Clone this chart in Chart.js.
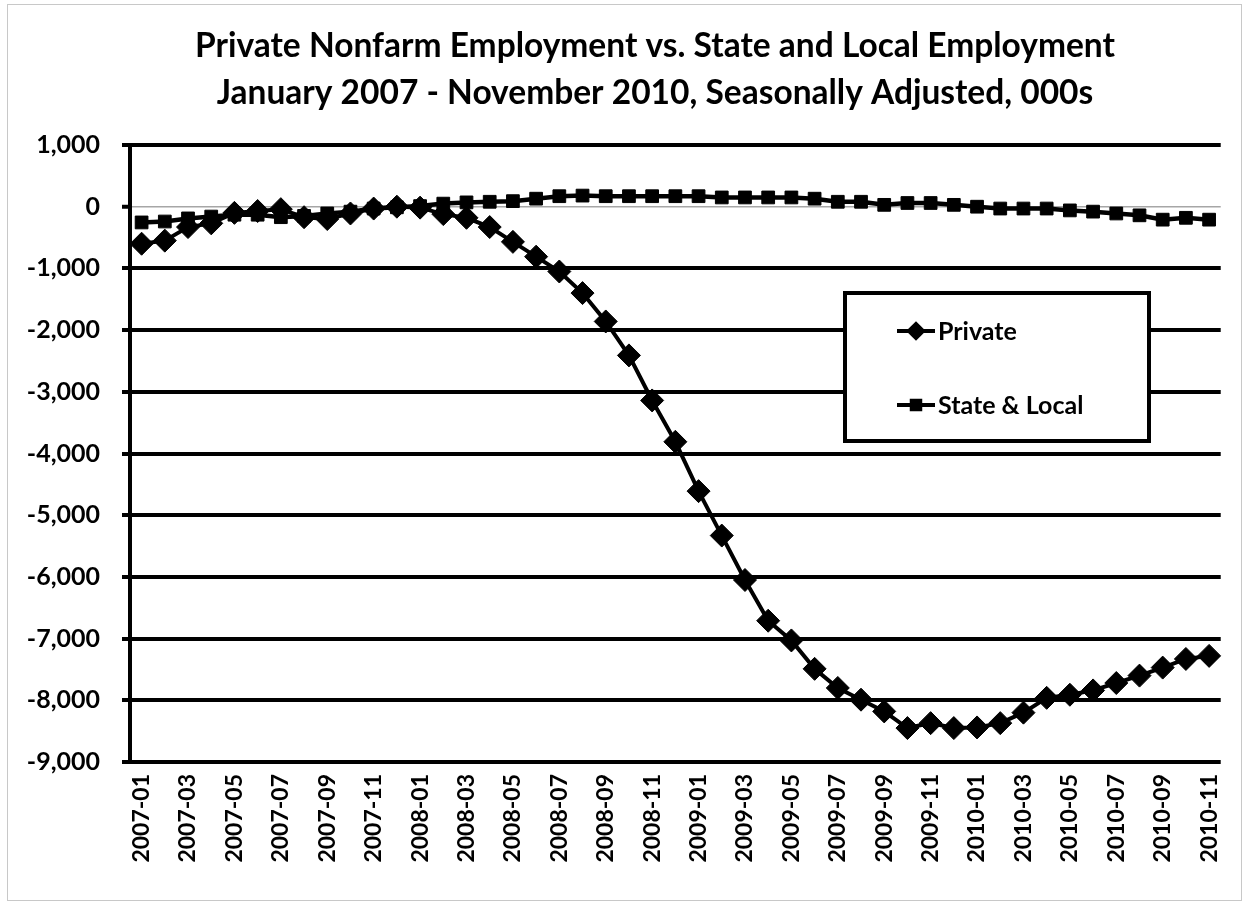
<!DOCTYPE html>
<html>
<head>
<meta charset="utf-8">
<script src="https://cdn.jsdelivr.net/npm/chart.js@4.4.0/dist/chart.umd.min.js"></script>
<style>
  html, body { margin: 0; padding: 0; background: #fff; }
</style>
</head>
<body>
<canvas id="lineChart" width="1249" height="905"></canvas>
<script>
const months = [
  '2007-01','2007-02','2007-03','2007-04','2007-05','2007-06','2007-07','2007-08','2007-09','2007-10','2007-11','2007-12',
  '2008-01','2008-02','2008-03','2008-04','2008-05','2008-06','2008-07','2008-08','2008-09','2008-10','2008-11','2008-12',
  '2009-01','2009-02','2009-03','2009-04','2009-05','2009-06','2009-07','2009-08','2009-09','2009-10','2009-11','2009-12',
  '2010-01','2010-02','2010-03','2010-04','2010-05','2010-06','2010-07','2010-08','2010-09','2010-10','2010-11'
];

const privateJobs = [
  -600, -550, -330, -270, -100, -70, -40, -170, -200, -110, -30, 0,
  -15, -120, -180, -330, -570, -810, -1050, -1400, -1860, -2410, -3140, -3810,
  -4610, -5330, -6050, -6710, -7030, -7490, -7800, -7990, -8180, -8450, -8370, -8450,
  -8440, -8370, -8200, -7960, -7910, -7840, -7720, -7600, -7470, -7330, -7280
];

const stateLocalJobs = [
  -255, -240, -190, -160, -130, -130, -170, -150, -110, -80, -30, -10,
  10, 50, 70, 80, 90, 130, 170, 180, 170, 170, 170, 170,
  170, 150, 150, 150, 150, 130, 80, 80, 30, 60, 60, 30,
  0, -30, -30, -30, -60, -80, -110, -140, -210, -180, -210
];

const titleLines = [
  'Private Nonfarm Employment vs. State and Local Employment',
  'January 2007 - November 2010, Seasonally Adjusted, 000s'
];

const yMin = -9000;
const yMax = 1000;
const yStep = 1000;

const FONT = 'Lato, "Open Sans", sans-serif';

// white page + thin grey frame like the excel chart area
const frame = {
  id: 'frame',
  beforeDraw(chart) {
    const c = chart.ctx;
    c.save();
    c.fillStyle = '#fff';
    c.fillRect(0, 0, chart.width, chart.height);
    c.strokeStyle = '#c8c8c8';
    c.lineWidth = 1;
    c.strokeRect(7.5, 4.5, 1234, 896);
    c.restore();
  }
};

const titleBlock = {
  id: 'titleBlock',
  afterDraw(chart) {
    const c = chart.ctx;
    c.save();
    c.fillStyle = '#000';
    c.font = 'bold 33.5px ' + FONT;
    c.textAlign = 'center';
    c.textBaseline = 'alphabetic';
    c.fillText(titleLines[0], 655, 57);
    c.fillText(titleLines[1], 655, 104);
    c.restore();
  }
};

// boxed legend sitting inside the plot
const boxLegend = {
  id: 'boxLegend',
  afterDatasetsDraw(chart, args, opts) {
    const c = chart.ctx;
    c.save();
    c.fillStyle = '#fff';
    c.fillRect(opts.x, opts.y, opts.w, opts.h);
    c.strokeStyle = '#000';
    c.lineWidth = 4;
    c.strokeRect(opts.x, opts.y, opts.w, opts.h);

    chart.data.datasets.forEach((ds, i) => {
      const y = opts.y + 38 + i * 74;
      const x0 = opts.x + 52;
      c.strokeStyle = '#000';
      c.lineWidth = 4;
      c.beginPath();
      c.moveTo(x0, y);
      c.lineTo(x0 + 38, y);
      c.stroke();
      c.fillStyle = '#000';
      Chart.helpers.drawPoint(c, {
        pointStyle: ds.pointStyle,
        radius: ds.pointStyle === 'rectRot' ? 7 : 6,
        rotation: 0,
        borderWidth: 1
      }, x0 + 19, y);
      c.fillStyle = '#000';
      c.font = 'bold 25px ' + FONT;
      c.textAlign = 'left';
      c.textBaseline = 'middle';
      c.fillText(ds.label, x0 + 41, y + 1);
    });
    c.restore();
  }
};

const ctx = document.getElementById('lineChart').getContext('2d');
const lineChart = new Chart(ctx, {
  type: 'line',
  data: {
    labels: months,
    datasets: [{
      label: 'Private',
      data: privateJobs,
      borderColor: '#000',
      borderWidth: 4,
      backgroundColor: '#000',
      pointStyle: 'rectRot',
      pointRadius: 11.5,
      pointBorderWidth: 1,
      pointBackgroundColor: '#000',
      pointBorderColor: '#000',
      tension: 0
    }, {
      label: 'State & Local',
      data: stateLocalJobs,
      borderColor: '#000',
      borderWidth: 4.5,
      backgroundColor: '#000',
      pointStyle: 'rect',
      pointRadius: 9,
      pointBorderWidth: 1,
      pointBackgroundColor: '#000',
      pointBorderColor: '#000',
      tension: 0
    }]
  },
  options: {
    responsive: false,
    animation: false,
    layout: {
      padding: { top: 145, left: 20, right: 27, bottom: 0 }
    },
    plugins: {
      legend: { display: false },
      title: { display: false },
      tooltip: { enabled: false },
      boxLegend: { x: 845, y: 293, w: 304, h: 148 }
    },
    scales: {
      x: {
        offset: true,
        grid: { display: false, drawTicks: false },
        border: { display: false },
        ticks: {
          autoSkip: false,
          minRotation: 90,
          maxRotation: 90,
          padding: 12,
          color: '#000',
          font: { family: FONT, size: 23, weight: 'bold' },
          callback: function(val, i) {
            return i % 2 === 0 ? months[i] : '';
          }
        },
        afterFit: function(scale) { scale.height = 143; }
      },
      y: {
        min: yMin,
        max: yMax,
        grid: {
          color: c => c.tick && c.tick.value === 0 ? '#a6a6a6' : '#000',
          lineWidth: c => c.tick && c.tick.value === 0 ? 1.5 : 4,
          drawTicks: true,
          tickLength: 8,
          tickColor: '#000',
          tickWidth: 4
        },
        border: { display: true, color: '#000', width: 4 },
        ticks: {
          stepSize: yStep,
          padding: 22,
          color: '#000',
          font: { family: FONT, size: 25, weight: 'bold' },
          callback: v => v.toLocaleString('en-US')
        },
        afterFit: function(scale) { scale.width = 110; }
      }
    }
  },
  plugins: [frame, titleBlock, boxLegend]
});
</script>
</body>
</html>
